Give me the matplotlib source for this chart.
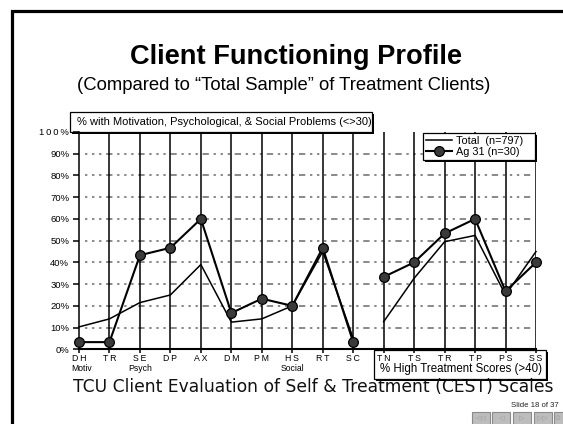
import matplotlib
matplotlib.use('Agg')
import matplotlib.pyplot as plt
import matplotlib.patches as mpatches
import matplotlib.patheffects as pe

# ---------------- data ----------------
categories = ['DH', 'TR', 'SE', 'DP', 'AX', 'DM', 'PM', 'HS', 'RT', 'SC',
              'TN', 'TS', 'TR', 'TP', 'PS', 'SS']
group_names = ['Motiv', 'Psych', 'Social']
group_positions = [0, 2, 7]
total_values = [10.3, 14.0, 21.5, 25.0, 39.0, 12.5, 14.0, 20.0, 45.0, 5.0,
                12.7, 32.7, 49.5, 52.4, 25.0, 45.0]
ag31_values = [3.3, 3.3, 43.3, 46.7, 60.0, 16.7, 23.3, 20.0, 46.7, 3.3,
               33.3, 40.0, 53.3, 60.0, 26.7, 40.0]
segments = [(0, 10), (10, 16)]
y_ticks = [0, 10, 20, 30, 40, 50, 60, 70, 80, 90, 100]
y_tick_labels = ['0%', '10%', '20%', '30%', '40%', '50%', '60%', '70%',
                 '80%', '90%', '1\u20090\u20090\u2009%']
series_labels = ['Total  (n=797)', 'Ag 31 (n=30)']

title = 'Client Functioning Profile'
subtitle = '(Compared to \u201cTotal Sample\u201d of Treatment Clients)'
box1_text = '% with Motivation, Psychological, & Social Problems (<>30)'
box2_text = '% High Treatment Scores (>40)'
xlabel_text = 'TCU Client Evaluation of Self & Treatment (CEST) Scales'
slide_text = 'Slide 18 of 37'

SANS = ['Liberation Sans', 'DejaVu Sans']

W, H = 563, 424
fig = plt.figure(figsize=(W / 100, H / 100), dpi=100)
fig.patch.set_facecolor('white')


def fx(x):
    return x / W


def fy(y):
    return 1 - y / H


# slide frame
fig.patches.append(mpatches.Rectangle((fx(11.5), -0.2), 1.5, fy(11) + 0.2,
                                      transform=fig.transFigure, fill=False,
                                      edgecolor='black', lw=2.3))

# titles
fig.text(fx(296.5), fy(56.5), title, ha='center', va='center', fontsize=19.6,
         fontweight='bold', family=SANS)
fig.text(fx(283.5), fy(85.5), subtitle, ha='center', va='center', fontsize=13.3,
         family=SANS)

# axes
x0, x1, y0, y1 = 79, 536, 349.3, 132
ax = fig.add_axes([fx(x0), fy(y0), (x1 - x0) / W, (y0 - y1) / H])
ax.set_xlim(0, len(categories) - 1)
ax.set_ylim(0, 100)
ax.patch.set_alpha(0)
for s in ['top', 'right']:
    ax.spines[s].set_visible(False)
ax.spines['left'].set_linewidth(1.1)
ax.spines['bottom'].set_linewidth(1.5)

xs = list(range(len(categories)))
ax.vlines(xs[1:], 0, 100, colors='black', lw=1.1, zorder=1.2)
for yv in y_ticks[1:-1]:
    ax.hlines(yv, 0.2, 14.85, colors='#808080', lw=1.3, zorder=1.1,
              linestyles=[(0, (1.3, 2.6, 1.3, 2.6, 1.3, 2.6, 3.5, 2.6))])

for a, b in segments:
    ax.plot(xs[a:b], total_values[a:b], color='black', lw=1.1, zorder=3,
            clip_on=False, label=series_labels[0] if a == 0 else None)
    ax.plot(xs[a:b], ag31_values[a:b], color='black', lw=1.5, marker='o',
            markersize=7, markerfacecolor='#3a3a3a', markeredgecolor='black',
            markeredgewidth=0.9, zorder=4, clip_on=False,
            label=series_labels[1] if a == 0 else None)

ax.set_yticks(y_ticks)
ax.set_yticklabels(y_tick_labels, family=SANS, fontsize=6.8)
ax.set_xticks(xs)
ax.set_xticklabels(['\u2009'.join(c) for c in categories], family=SANS,
                   fontsize=6.3)
ax.tick_params(axis='y', direction='out', length=4, width=1.1, pad=3)
ax.tick_params(axis='x', direction='out', length=3, width=1.1, pad=0.3)

for name, pos in zip(group_names, group_positions):
    ax.annotate(name, xy=(pos, 0), xycoords=('data', 'axes fraction'),
                xytext=(2 if pos == 0 else 0, -13.5), textcoords='offset points',
                ha='center', va='center', fontsize=6.2, family=SANS)

# text boxes (drawn in axes so tick labels sit above)
shadow = [pe.SimplePatchShadow(offset=(1.5, -1.5), shadow_rgbFace='black',
                               alpha=1), pe.Normal()]
for (bx0, by0, bx1, by1) in [(70, 112, 372, 131.5), (373.5, 349.5, 546, 378.5)]:
    r = mpatches.Rectangle((fx(bx0), fy(by1)), fx(bx1) - fx(bx0),
                           fy(by0) - fy(by1), transform=fig.transFigure,
                           facecolor='white', edgecolor='black', lw=0.9,
                           clip_on=False, zorder=1.5)
    r.set_path_effects(shadow)
    ax.add_patch(r)

ax.text(fx(77), fy(122), box1_text, transform=fig.transFigure, ha='left',
        va='center', fontsize=8, family=SANS, zorder=6)
ax.text(fx(461.5), fy(369), box2_text, transform=fig.transFigure,
        ha='center', va='center', fontsize=8.3, family=SANS, zorder=6)

leg = ax.legend(loc='upper left',
                bbox_to_anchor=(fx(423), fy(160), (535 - 423) / W, (160 - 133) / H),
                bbox_transform=fig.transFigure, mode='expand', frameon=True,
                fancybox=False, shadow=False, framealpha=1, borderaxespad=0,
                borderpad=0.3, handlelength=2.4, handletextpad=0.35,
                labelspacing=0.05, prop={'family': SANS, 'size': 7.8})
leg.get_frame().set_edgecolor('black')
leg.get_frame().set_facecolor('white')
leg.get_frame().set_linewidth(0.9)
leg.get_frame().set_path_effects(shadow)

fig.text(fx(313), fy(386.5), xlabel_text, ha='center', va='center',
         fontsize=12.3, family=['DejaVu Sans'], color='#111111')

# slide navigation
fig.text(fx(511), fy(405.5), slide_text, ha='left', va='center', fontsize=5.6,
         family=SANS, color='#222222')
glyphs = ['\u25c1\u25c1', '\u25c1', '\u25b7', '\u25b7\u25b7', '\u2299']
for i, g in enumerate(glyphs):
    bx = 472 + i * 20.5
    fig.patches.append(mpatches.Rectangle((fx(bx), fy(426)), 18 / W, 14.5 / H,
                                          transform=fig.transFigure,
                                          facecolor='#bdbdbd',
                                          edgecolor='#8a8a8a', lw=0.8))
    gx = min(bx + 9, 557)
    fig.text(fx(gx), fy(418.5), g, ha='center', va='center', fontsize=5,
             color='#9a9a9a', family=['DejaVu Sans'])

fig.savefig('out.png', dpi=100)
